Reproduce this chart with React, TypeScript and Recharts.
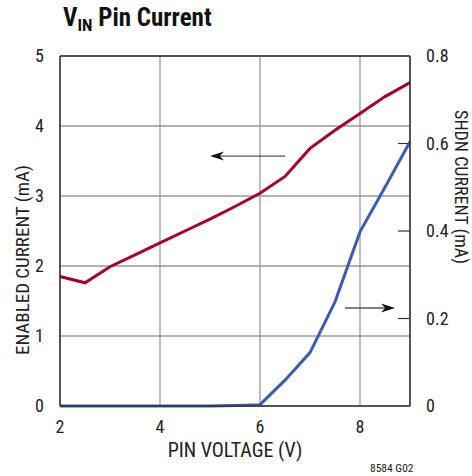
import {
  LineChart,
  Line,
  XAxis,
  YAxis,
  CartesianGrid,
  ReferenceLine,
} from 'recharts'

// ─── data ──────────────────────────────────────────────────────────────────
const pinVoltage = [2, 2.5, 3, 3.5, 4, 4.5, 5, 5.5, 6, 6.5, 7, 7.5, 8, 8.5, 9]
const enabledCurrent = [1.85, 1.76, 1.99, 2.16, 2.33, 2.5, 2.67, 2.85, 3.04, 3.28, 3.68, 3.94, 4.18, 4.42, 4.62]
const shdnCurrent = [0, 0, 0, 0, 0, 0, 0, 0.001, 0.003, 0.059, 0.122, 0.238, 0.398, 0.5, 0.604]

const xTicks = [2, 4, 6, 8]
const leftTicks = [0, 1, 2, 3, 4, 5]
const rightTicks = [0, 0.2, 0.4, 0.6, 0.8]

const chartData = pinVoltage.map((v, i) => ({
  v,
  enabled: enabledCurrent[i],
  shdn: shdnCurrent[i],
}))

const FONT = '"Liberation Sans Narrow", "Arial Narrow", "Roboto Condensed", Roboto, sans-serif'
const RED = '#a3002c'
const BLUE = '#3b5cb0'
const GRID = '#9a9a9a'
const FRAME = '#333'

// 화살표 (line + filled head)
function Arrow(props: any) {
  const { x1, y1, x2, y2 } = props
  const dir = x2 > x1 ? 1 : -1
  const hx = x2
  const hl = 14
  const hw = 4.5
  return (
    <g>
      <line x1={x1} y1={y1} x2={hx - dir * hl * 0.6} y2={y2} stroke="#555" strokeWidth={1.3} />
      <polygon
        points={`${hx},${y2} ${hx - dir * hl},${y2 - hw} ${hx - dir * hl * 0.7},${y2} ${hx - dir * hl},${y2 + hw}`}
        fill="#111"
      />
    </g>
  )
}

function Seg(props: any) {
  const { x1, y1, x2, y2 } = props
  return <line x1={x1} y1={y1} x2={x2} y2={y2} stroke={FRAME} strokeWidth={1.2} />
}

export default function App() {
  const tickStyle = { fontSize: 18, fill: '#222', fontFamily: FONT }
  return (
    <div style={{ position: 'absolute', left: 0, top: 0, width: 472, height: 476, background: '#fff', fontFamily: FONT }}>
      <div
        style={{
          position: 'absolute',
          left: 63,
          top: 3,
          fontSize: 25,
          fontWeight: 'bold',
          color: '#111',
          whiteSpace: 'nowrap',
        }}
      >
        V<sub style={{ fontSize: 17, verticalAlign: -5 }}>IN</sub> Pin Current
      </div>

      <LineChart
        width={472}
        height={476}
        data={chartData}
        margin={{ top: 56, right: 0, bottom: 0, left: 0 }}
        style={{ position: 'absolute', left: 0, top: 0 }}
      >
        <CartesianGrid stroke={GRID} strokeWidth={1.3} yAxisId="left" />
        <XAxis
          dataKey="v"
          type="number"
          domain={[2, 9]}
          ticks={xTicks}
          height={70}
          tickLine={false}
          axisLine={{ stroke: FRAME, strokeWidth: 1.5 }}
          tick={tickStyle}
          tickMargin={8}
        />
        <YAxis
          yAxisId="left"
          domain={[0, 5]}
          ticks={leftTicks}
          width={60}
          tickLine={false}
          axisLine={{ stroke: FRAME, strokeWidth: 1.5 }}
          tick={tickStyle}
          tickMargin={10}
        />
        <YAxis
          yAxisId="right"
          orientation="right"
          domain={[0, 0.8]}
          ticks={rightTicks}
          width={62}
          tickLine={false}
          axisLine={{ stroke: FRAME, strokeWidth: 1.5 }}
          tick={tickStyle}
          tickMargin={10}
          tickFormatter={(t: number) => (t === 0 ? '0' : t.toFixed(1))}
        />
        <ReferenceLine yAxisId="left" y={5} stroke={FRAME} strokeWidth={1.5} />
        {[0.2, 0.4, 0.6].map((t) => (
          <ReferenceLine
            key={t}
            yAxisId="right"
            segment={[{ x: 8.76, y: t }, { x: 9, y: t }]}
            shape={Seg}
          />
        ))}
        <ReferenceLine
          yAxisId="left"
          segment={[{ x: 6.5, y: 3.57 }, { x: 5.0, y: 3.57 }]}
          shape={Arrow}
        />
        <ReferenceLine
          yAxisId="right"
          segment={[{ x: 7.7, y: 0.224 }, { x: 8.7, y: 0.224 }]}
          shape={Arrow}
        />
        <Line
          yAxisId="left"
          dataKey="enabled"
          type="linear"
          stroke={RED}
          strokeWidth={3}
          dot={false}
          isAnimationActive={false}
        />
        <Line
          yAxisId="right"
          dataKey="shdn"
          type="linear"
          stroke={BLUE}
          strokeWidth={3}
          dot={false}
          isAnimationActive={false}
        />
      </LineChart>

      <div
        style={{
          position: 'absolute',
          left: 22,
          top: 260,
          transform: 'translate(-50%, -50%) rotate(-90deg)',
          fontSize: 19,
          lineHeight: '19px',
          color: '#222',
          whiteSpace: 'nowrap',
        }}
      >
        ENABLED CURRENT (mA)
      </div>
      <div
        style={{
          position: 'absolute',
          left: 461,
          top: 187,
          transform: 'translate(-50%, -50%) rotate(90deg)',
          fontSize: 18,
          lineHeight: '18px',
          color: '#222',
          whiteSpace: 'nowrap',
        }}
      >
        SHDN CURRENT (mA)
      </div>
      <div
        style={{
          position: 'absolute',
          left: 235,
          top: 450,
          transform: 'translate(-50%, -50%)',
          fontSize: 20,
          color: '#222',
          whiteSpace: 'nowrap',
        }}
      >
        PIN VOLTAGE (V)
      </div>
      <div
        style={{
          position: 'absolute',
          left: 370,
          top: 461,
          fontSize: 11.5,
          color: '#222',
          whiteSpace: 'nowrap',
        }}
      >
        8584 G02
      </div>
    </div>
  )
}
